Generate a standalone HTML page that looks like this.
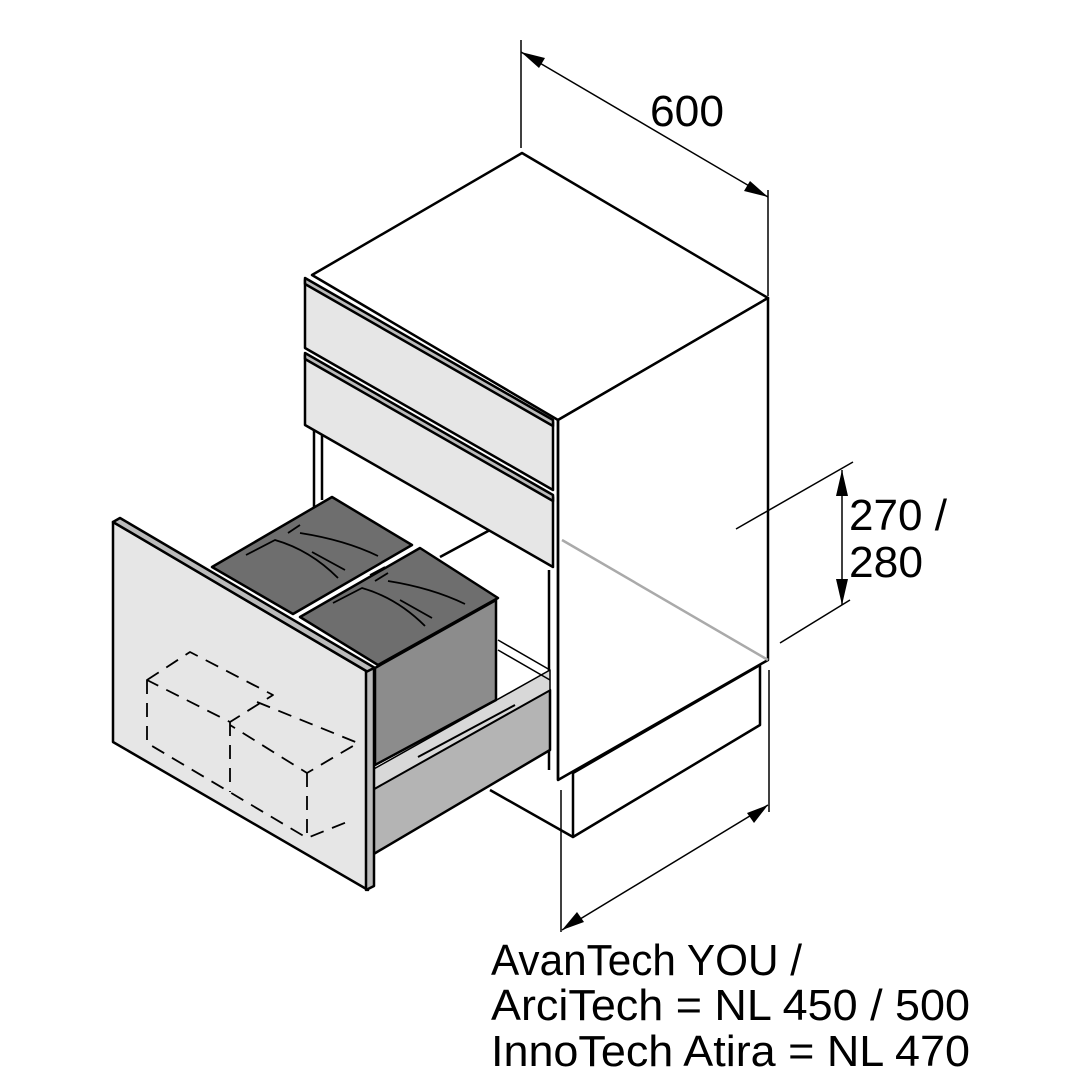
<!DOCTYPE html>
<html><head><style>html,body{margin:0;padding:0;background:#fff}svg{display:block}</style></head>
<body>
<svg width="1080" height="1080" viewBox="0 0 1080 1080" xmlns="http://www.w3.org/2000/svg">
<g stroke="#000" stroke-width="2.5" fill="none" stroke-linejoin="round">
<polygon points="522,153 768,298 558,420 312,275" fill="#fff"/>
<polygon points="558,420 768,298 768,660 558,780" fill="#fff"/>
<line x1="562" y1="540" x2="768" y2="660" stroke="#aaa" stroke-width="2.5"/>
<polygon points="573,773 760,665 760,725 573,837" fill="#fff"/>
<line x1="573" y1="837" x2="490" y2="790"/>
<line x1="558" y1="420" x2="558" y2="780"/>
<line x1="549" y1="570" x2="549" y2="770"/>
<line x1="314" y1="425" x2="314" y2="540"/>
<line x1="322" y1="430" x2="322" y2="500"/>
<line x1="440" y1="557" x2="490" y2="530"/>
<polygon points="305,280 553,422 553,490 305,348" fill="#e6e6e6"/>
<polygon points="305,278 553,420 553,426 305,284" fill="#bbb"/>
<polygon points="305,355 553,497 553,567 305,425" fill="#e6e6e6"/>
<polygon points="305,353 553,495 553,501 305,359" fill="#bbb"/>
<polygon points="372,790 550,690 550,750 372,855" fill="#b4b4b4"/>
<polygon points="372,770 550,670 550,690 372,790" fill="#d8d8d8" stroke-width="1.5"/>
<line x1="498" y1="640" x2="550" y2="670" stroke-width="1.5"/>
<line x1="498" y1="650" x2="550" y2="680" stroke-width="1.5"/>
<line x1="418" y1="757" x2="515" y2="705" stroke-width="2"/>
<polygon points="375,668 496,600 496,700 375,765" fill="#8c8c8c"/>
<polygon points="212,567 332,497 412,545 293,614" fill="#6e6e6e"/>
<polygon points="300,617 420,548 498,598 378,665" fill="#6e6e6e"/>
<g stroke-width="1.8">
<path d="M246,555 L275,540 Q310,550 338,578 M288,533 L300,525 M300,533 Q345,540 378,556 M312,552 L345,570 M370,575 L385,567"/>
<path d="M333,603 L362,588 Q397,598 425,626 M375,581 L388,573 M388,581 Q432,588 465,604 M400,600 L432,618 M455,622 L470,614"/>
</g>
<polygon points="113,522 368,672 368,890 113,742" fill="#e6e6e6"/>
<polygon points="113,522 368,672 375,668 120,518" fill="#bbb"/>
<polygon points="366,672 374,668 374,886 366,890" fill="#bbb"/>
<g stroke-width="1.8" stroke-dasharray="14,9">
<path d="M147,680 L190,652 L273,695 L230,722 Z M147,680 L147,743 L307,838 L347,822 M230,722 L230,792 M257,702 L358,743 L307,773 L230,725 M307,773 L307,838"/>
</g>
<g stroke-width="1.5">
<line x1="521" y1="40" x2="521" y2="148"/>
<line x1="768" y1="190" x2="768" y2="296"/>
<line x1="521" y1="52" x2="768" y2="197"/>
<line x1="736" y1="529" x2="853" y2="462"/>
<line x1="780" y1="643" x2="850" y2="600"/>
<line x1="842" y1="470" x2="842" y2="605"/>
<line x1="561" y1="790" x2="561" y2="932"/>
<line x1="769" y1="670" x2="769" y2="812"/>
<line x1="562" y1="930" x2="768" y2="805"/>
</g>
</g>
<g fill="#000">
<polygon points="521,52 545,58 539,68"/>
<polygon points="768,197 744,191 750,181"/>
<polygon points="842,470 836,496 848,496"/>
<polygon points="842,605 836,579 848,579"/>
<polygon points="562,930 577,912 584,922"/>
<polygon points="768,805 754,823 747,813"/>
</g>
<g font-family="'Liberation Sans', sans-serif" font-size="44" fill="#000">
<text x="650" y="126" textLength="74" lengthAdjust="spacingAndGlyphs">600</text>
<text x="849" y="530" textLength="98" lengthAdjust="spacingAndGlyphs">270 /</text>
<text x="849" y="577" textLength="74" lengthAdjust="spacingAndGlyphs">280</text>
<text x="491" y="975" textLength="311" lengthAdjust="spacingAndGlyphs">AvanTech YOU /</text>
<text x="491" y="1020" textLength="479" lengthAdjust="spacingAndGlyphs">ArciTech = NL 450 / 500</text>
<text x="491" y="1066" textLength="479" lengthAdjust="spacingAndGlyphs">InnoTech Atira = NL 470</text>
</g>
</svg>
</body></html>
